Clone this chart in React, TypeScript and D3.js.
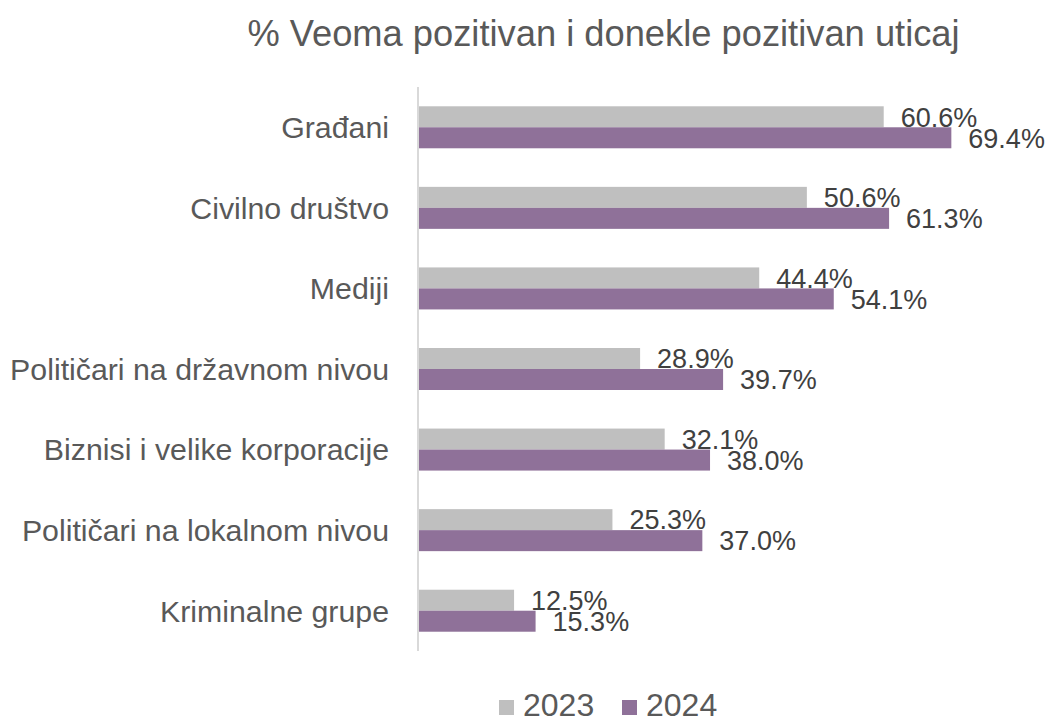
import React from "react";
import * as d3 from "d3";

const categories = [
  "Građani",
  "Civilno društvo",
  "Mediji",
  "Političari na državnom nivou",
  "Biznisi i velike korporacije",
  "Političari na lokalnom nivou",
  "Kriminalne grupe",
];
const series = ["2023", "2024"];
const values2023 = [60.6, 50.6, 44.4, 28.9, 32.1, 25.3, 12.5];
const values2024 = [69.4, 61.3, 54.1, 39.7, 38.0, 37.0, 15.3];
const colors = ["#bfbfbf", "#8f7199"];
const title = "% Veoma pozitivan i donekle pozitivan uticaj";

const width = 1057;
const height = 718;
const font = "'Liberation Sans', Arial, sans-serif";

const App = () => {
  const x = d3.scaleLinear().domain([0, 80]).range([418, 418 + 614.8]);
  const y = d3.scaleBand().domain(categories).range([87, 651]).padding(0);
  const inner = d3.scaleBand().domain(series).range([0, 42]).padding(0);
  const offset = (y.bandwidth() - 42) / 2;
  const data = [values2023, values2024];

  return (
    <svg
      width={width}
      height={height}
      style={{ position: "absolute", left: 0, top: 0, background: "#fff" }}
      fontFamily={font}
    >
      <text x={603.5} y={46} textAnchor="middle" fontSize={36.3} fill="#595959">
        {title}
      </text>

      {categories.map((c, i) => (
        <g key={c}>
          {series.map((s, j) => {
            const v = data[j][i];
            const y0 = (y(c) as number) + offset + (inner(s) as number);
            return (
              <g key={s}>
                <rect
                  x={x(0)}
                  y={y0}
                  width={x(v) - x(0)}
                  height={inner.bandwidth()}
                  fill={colors[j]}
                />
                <text
                  x={x(v) + 17}
                  y={y0 + inner.bandwidth() / 2}
                  dy="0.36em"
                  fontSize={27}
                  fill="#404040"
                >
                  {v.toFixed(1) + "%"}
                </text>
              </g>
            );
          })}
          <text
            x={389}
            y={(y(c) as number) + y.bandwidth() / 2}
            dy="0.36em"
            textAnchor="end"
            fontSize={30.3}
            fill="#595959"
          >
            {c}
          </text>
        </g>
      ))}

      <line x1={x(0)} x2={x(0)} y1={87} y2={651} stroke="#d9d9d9" strokeWidth={2} />

      <g>
        {series.map((s, j) => {
          const lx = [499, 622][j];
          return (
            <g key={s}>
              <rect x={lx} y={700} width={15} height={15} fill={colors[j]} />
              <text x={lx + 24} y={716} fontSize={32} fill="#595959">
                {s}
              </text>
            </g>
          );
        })}
      </g>
    </svg>
  );
};

export default App;
